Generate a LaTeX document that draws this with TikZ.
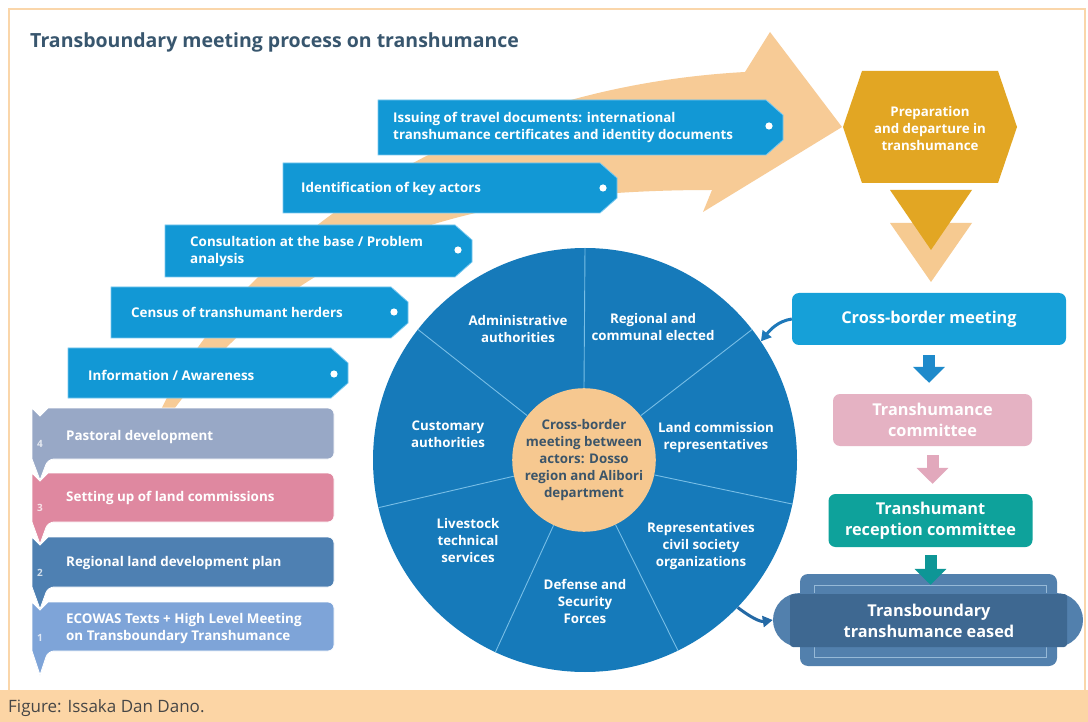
\documentclass[tikz,border=0pt]{standalone}
\usepackage{fontspec}
\setmainfont{Open Sans}
\usetikzlibrary{arrows.meta,calc}
\definecolor{frameor}{RGB}{250,214,170}
\definecolor{capbg}{RGB}{252,213,165}
\definecolor{captext}{RGB}{70,70,70}
\definecolor{titlec}{RGB}{56,86,110}
\definecolor{arrowor}{RGB}{247,203,150}
\definecolor{tagblue}{RGB}{18,152,213}
\definecolor{tagedge}{RGB}{120,200,240}
\definecolor{wheelblue}{RGB}{22,122,186}
\definecolor{divider}{RGB}{120,190,230}
\definecolor{hubor}{RGB}{246,200,144}
\definecolor{hubtext}{RGB}{60,85,105}
\definecolor{gold}{RGB}{226,166,35}
\definecolor{lightgold}{RGB}{246,202,145}
\definecolor{cbmblue}{RGB}{22,160,216}
\definecolor{arrowblue}{RGB}{30,138,203}
\definecolor{curveblue}{RGB}{30,120,185}
\definecolor{curveblue2}{RGB}{36,105,165}
\definecolor{pinkbox}{RGB}{229,178,195}
\definecolor{pinkarrow}{RGB}{226,168,188}
\definecolor{tealbox}{RGB}{14,162,155}
\definecolor{tealarrow}{RGB}{14,150,150}
\definecolor{steel}{RGB}{82,128,173}
\definecolor{steeldark}{RGB}{62,104,145}
\definecolor{steelline}{RGB}{150,185,215}
\definecolor{pastoral}{RGB}{152,168,198}
\definecolor{settingpink}{RGB}{223,136,160}
\definecolor{regionalblue}{RGB}{78,128,178}
\definecolor{ecowas}{RGB}{126,164,216}
\newcommand{\tagpath}[4]{\path[tagshape] (#1,#2) -- (#3-17,#2) -- (#3,#2+15) -- (#3,#4-15) -- (#3-17,#4) -- (#1,#4) -- cycle;}
\newcommand{\stackpath}[4]{\path[fill=#1,draw=white,line width=0.8pt] (32,#2) -- (40,#2+8) -- (48,#2) [rounded corners=6pt] -- (334,#2) -- (334,#3) -- (48,#3) [sharp corners] -- (40,#4) -- (32,#3) -- cycle;}
\begin{document}
\begin{tikzpicture}[x=1pt,y=-1pt,
  tagtext/.style={text=white,font=\bfseries\fontsize{13.4}{17}\selectfont,anchor=west,align=left,inner sep=0pt},
  seclabel/.style={text=white,font=\bfseries\fontsize{13.3}{17}\selectfont,align=center,inner sep=0pt},
  flowbox/.style={rounded corners=7pt,inner sep=0pt,text=white,font=\bfseries\fontsize{16.3}{21}\selectfont,align=center},
  numtext/.style={text=white,text opacity=0.75,font=\bfseries\fontsize{10}{10}\selectfont,inner sep=0pt},
  tagshape/.style={fill=tagblue,draw=tagedge,line width=0.8pt},
  dotw/.style={fill=white},
  blockarrow/.style={line width=12pt,-{Triangle[length=16pt,width=31pt]}},
  curvearrow/.style={line width=3pt,-{Triangle[length=10pt,width=11pt]}},
]
\useasboundingbox (0,0) rectangle (1088,722);
\fill[white] (0,0) rectangle (1088,722);
% frame and caption band
\draw[frameor,line width=1.2pt] (9,690) -- (9,9) -- (1085,9) -- (1085,690);
\fill[capbg] (0,690) rectangle (1088,722);
\node[anchor=west,inner sep=0pt,text=captext,font=\fontsize{17}{19}\selectfont] (caption) at (8,708) {Figure: Issaka Dan Dano.};
% title
\node[anchor=west,inner sep=0pt,text=titlec,font=\bfseries\fontsize{19.5}{22}\selectfont] (title) at (30,42) {Transboundary meeting process on transhumance};
% big orange arrow
\fill[arrowor] (160,412) .. controls (220,280) and (420,90) .. (745,72) -- (770,32) -- (842,127) -- (703,212) -- (712,190) .. controls (450,190) and (290,250) .. (172,412) -- cycle;
% tag boxes
\tagpath{378}{100}{783}{155}
\tagpath{283}{163}{617}{213}
\tagpath{165}{225}{472}{277}
\tagpath{111}{287}{408}{338}
\tagpath{68}{348}{348}{398}
\fill[dotw] (769,126) circle (3.6);
\fill[dotw] (603,188) circle (3.6);
\fill[dotw] (458,250) circle (3.6);
\fill[dotw] (394,312) circle (3.6);
\fill[dotw] (334,374) circle (3.6);
\node[tagtext] (issuing) at (393,127) {Issuing of travel documents: international\\transhumance certificates and identity documents};
\node[tagtext] (ident) at (301,189) {Identification of key actors};
\node[tagtext] (consult) at (190,251.5) {Consultation at the base / Problem\\analysis};
\node[tagtext] (census) at (131,312) {Census of transhumant herders};
\node[tagtext] (info) at (88,375) {Information / Awareness};
% stacked foundation boxes
\stackpath{ecowas}{602}{651}{675}
\stackpath{regionalblue}{537}{587}{609}
\stackpath{settingpink}{473}{522}{544}
\stackpath{pastoral}{408}{459}{480}
\node[tagtext] (pastoralt) at (66,437) {Pastoral development};
\node[tagtext] (settingt) at (66,498) {Setting up of land commissions};
\node[tagtext] (regionalt) at (66,563) {Regional land development plan};
\node[tagtext] (ecowast) at (66,628.5) {ECOWAS Texts + High Level Meeting\\on Transboundary Transhumance};
\node[numtext] (n4) at (40,444) {4};
\node[numtext] (n3) at (40,508) {3};
\node[numtext] (n2) at (40,573) {2};
\node[numtext] (n1) at (40,638) {1};
% wheel
\node[circle,fill=wheelblue,minimum size=424pt,inner sep=0pt] (wheel) at (585,460) {};
\node[circle,fill=hubor,minimum size=140pt,inner sep=0pt,text=hubtext,font=\bfseries\fontsize{13.3}{17}\selectfont,align=center] (hub) at (584,460) {Cross-border\\meeting between\\actors: Dosso\\region and Alibori\\department};
\foreach \a in {90,38.57,-12.86,-64.29,-115.71,-167.14,-218.57}
  \draw[divider,line width=0.9pt] (hub.\a) -- (wheel.\a);
\node[seclabel] (admin) at (518,329.5) {Administrative\\authorities};
\node[seclabel] (regional) at (653,327.5) {Regional and\\communal elected};
\node[seclabel] (landcom) at (716,438) {Land commission\\representatives};
\node[seclabel] (civil) at (701,546) {Representatives\\civil society\\organizations};
\node[seclabel] (defense) at (585,601) {Defense and\\Security\\Forces};
\node[seclabel] (livestock) at (468,540.5) {Livestock\\technical\\services};
\node[seclabel] (customary) at (448,434) {Customary\\authorities};
% preparation hexagon and chevron
\fill[gold] (862,71) -- (998,71) -- (1017,127) -- (998,183) -- (862,183) -- (843,127) -- cycle;
\node[inner sep=0pt,text=white,font=\bfseries\fontsize{13.3}{17}\selectfont,align=center] (prep) at (930,129) {Preparation\\and departure in\\transhumance};
\fill[lightgold] (890,223) -- (972,223) -- (931,282) -- cycle;
\fill[gold] (890,190) -- (972,190) -- (931,250) -- cycle;
% right column boxes
\node[flowbox,fill=cbmblue,minimum width=274pt,minimum height=52pt] (cbm) at (929,319) {Cross-border meeting};
\node[flowbox,fill=pinkbox,minimum width=199pt,minimum height=52pt] (thc) at (932.5,420) {Transhumance\\committee};
\node[flowbox,fill=tealbox,minimum width=204pt,minimum height=53pt] (trc) at (930.5,520.5) {Transhumant\\reception committee};
\node[rounded corners=8pt,fill=steel,minimum width=257pt,minimum height=92pt,inner sep=0pt] (easedouter) at (928.5,620) {};
\draw[steelline,line width=0.8pt] (814,585) rectangle (1046,657);
\node[rounded corners=27pt,fill=steel,minimum width=310pt,minimum height=54pt,inner sep=0pt] (eased) at (928,620) {};
\fill[steeldark,rounded corners=3pt] (790,594) rectangle (1067,647);
\node[inner sep=0pt,text=white,font=\bfseries\fontsize{16.3}{21}\selectfont,align=center] (easedt) at (929,620.5) {Transboundary\\transhumance eased};
% connectors
\draw[blockarrow,arrowblue,shorten <=10pt,shorten >=11pt] (cbm.south) -- (cbm.south |- thc.north);
\draw[blockarrow,pinkarrow,shorten <=9pt,shorten >=10pt] (thc.south) -- (thc.south |- trc.north);
\draw[blockarrow,tealarrow,shorten <=8pt] (trc.south) -- ($(trc.south |- easedouter.north)+(0,11)$);
\draw[curvearrow,curveblue] (cbm.west) .. controls (778,321) and (770,330) .. (wheel.34);
\draw[curvearrow,curveblue2] (wheel.-44) .. controls (750,617) and (760,622) .. (eased.west);
\end{tikzpicture}
\end{document}
